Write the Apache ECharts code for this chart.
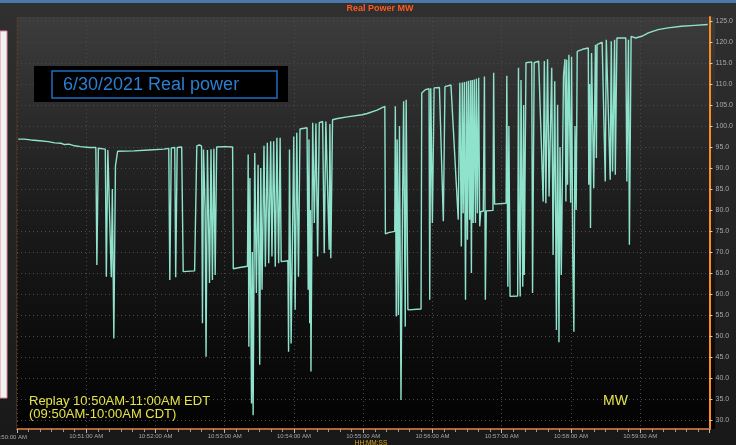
<!DOCTYPE html>
<html><head><meta charset="utf-8">
<script src="https://cdn.jsdelivr.net/npm/echarts@6/dist/echarts.min.js"></script>
<style>html,body{margin:0;padding:0;background:#1c1c1c;overflow:hidden}#main{width:736px;height:445px}</style>
</head><body><div id="main"></div>
<script>
// x: seconds after 10:50:00 AM EDT, y: real power in MW
const minuteLabels = ['','10:51:00 AM','10:52:00 AM','10:53:00 AM','10:54:00 AM','10:55:00 AM','10:56:00 AM','10:57:00 AM','10:58:00 AM','10:59:00 AM',''];
const firstLabel = '10:50:00 AM';
const yRange = [27.8, 126];
const samples = [
[1.0,96.9],[6.0,96.9],[12.0,96.7],[19.8,96.5],[27.0,96.3],[32.7,96.0],[38.0,95.9],[41.3,95.6],[45.0,95.7],[49.9,95.3],[55.0,95.1],[58.5,95.0],[63.0,94.9],[68.3,94.9],
[69.2,66.9],[70.5,94.7],[72.2,94.6],[76.5,94.5],[77.4,64.1],[78.7,94.3],[79.9,94.4],[81.7,64.0],[82.6,85.0],[83.9,49.4],[85.3,90.5],[87.2,94.0],
[101.4,94.1],[114.3,94.3],[127.2,94.5],[131.5,94.7],
[132.4,63.3],[133.7,94.8],[136.7,94.9],[137.5,64.0],[138.8,94.9],[142.7,95.0],[144.0,65.3],[153.9,65.5],
[155.8,95.3],[158.0,95.5],[159.9,95.2],[160.7,53.0],[161.6,94.4],[163.0,80.0],[163.8,45.0],[165.0,94.3],[166.8,62.6],[168.1,94.5],[169.3,63.3],[170.6,94.6],[171.7,64.5],[173.0,95.0],[180.0,95.1],[186.8,95.0],
[187.4,66.0],[193.0,66.3],[199.7,66.6],
[200.3,93.2],[200.9,47.4],[201.8,87.6],[203.2,33.9],[203.9,70.0],[204.6,31.1],[206.0,93.6],[207.4,60.2],[208.9,90.8],[210.3,43.1],[211.2,90.0],[212.3,61.0],[214.0,95.3],[215.2,66.5],[216.9,96.0],[218.1,67.3],[219.8,96.4],[220.9,68.9],[222.4,96.4],[223.8,66.5],[225.2,97.2],[226.7,67.3],[228.0,97.2],[228.9,67.7],[234.7,67.9],
[235.3,46.2],[236.1,94.4],[237.5,48.2],[239.8,97.5],[241.0,56.2],[242.4,98.4],[243.9,64.1],[245.2,99.3],[251.3,99.6],[252.3,61.0],[253.0,96.8],[253.6,53.0],[254.2,80.0],[254.7,41.5],[256.2,100.8],[257.6,76.9],[259.0,100.6],[260.5,68.9],[261.9,100.8],[264.8,101.1],[266.2,69.7],[267.6,101.1],[270.5,70.5],[271.1,100.5],[271.9,68.5],[273.4,101.5],
[277.7,101.8],[286.2,102.2],[299.1,102.7],[303.4,103.0],[312.0,103.8],[318.7,104.7],
[319.2,74.3],[322.0,74.6],[327.3,74.9],[327.8,104.7],[328.6,54.6],[329.4,96.8],[330.4,55.0],[331.4,100.0],[332.7,34.7],[334.0,80.0],[335.0,105.9],[336.4,52.2],[337.2,106.3],[338.7,56.2],[350.1,56.4],[350.7,107.9],
[354.0,108.7],[357.0,108.9],[357.6,58.6],[358.5,109.0],[359.9,76.9],[361.4,109.1],[366.0,109.2],[369.4,77.3],[370.8,109.4],[376.0,109.8],[382.3,77.7],[383.7,110.3],[385.0,71.3],[385.8,110.4],[386.6,79.2],[387.6,110.5],[388.6,58.6],[389.5,110.6],[390.3,72.9],[391.2,110.8],[392.2,77.7],[393.0,110.9],[393.7,65.0],[394.5,111.0],[395.2,76.9],[396.2,111.1],[397.2,76.9],[398.0,111.3],[398.9,79.2],[400.0,111.5],[400.9,76.1],[401.8,79.6],[404.0,79.7],[405.0,111.8],[405.8,58.6],[406.6,79.8],[412.4,79.9],[413.0,112.7],[413.8,81.4],[423.8,81.6],[424.4,112.0],[425.3,61.7],[426.2,100.0],[427.2,59.4],[433.8,59.5],[434.5,113.9],[435.1,79.0],[436.0,59.4],[436.7,111.0],[438.2,61.7],[439.0,105.0],[439.5,64.5],[441.0,115.1],[446.0,115.3],[446.7,60.2],[448.1,115.1],
[452.0,115.5],[455.9,82.0],[456.9,115.5],[458.2,81.6],[459.7,115.9],[461.0,83.2],[463.3,113.9],[464.5,69.3],[465.9,110.7],[467.4,51.4],[468.4,105.1],[469.6,48.5],[470.5,95.0],[471.6,64.5],[473.5,112.0],[474.8,116.0],[475.6,82.0],[476.3,115.8],[477.0,86.0],[478.2,117.0],[479.7,81.7],[480.5,116.5],[481.5,70.0],[482.5,51.0],[483.5,100.0],[484.5,80.0],[485.4,117.8],[490.0,118.3],[495.0,118.6],[495.4,86.0],[496.2,110.0],[496.9,75.7],[497.8,117.4],[499.7,85.2],[501.2,119.4],[502.0,92.4],[502.6,119.4],[503.3,119.8],[507.0,120.0],[509.7,86.8],[510.6,120.6],[514.0,87.2],[514.9,120.2],[516.0,89.2],[517.8,120.6],[518.4,88.4],[519.8,121.0],[527.5,121.0],[528.4,86.8],[529.8,120.6],[530.6,71.7],[532.1,121.4],[536.0,121.0],[541.3,121.4],[547.0,122.2],[555.5,123.0],[564.1,123.4],[575.7,123.8],[587.1,124.0],[598.5,124.2]
];

const chart = echarts.init(document.getElementById('main'), null, {renderer: 'canvas'});
const FONT = '"Liberation Sans", Arial, sans-serif';
const plot = {x: 17, y: 17, w: 698, h: 412};

chart.setOption({
  animation: false,
  backgroundColor: {type: 'linear', x: 0, y: 0, x2: 0, y2: 1, colorStops: [{offset: 0, color: '#303030'}, {offset: 1, color: '#181818'}]},
  grid: {left: plot.x, top: plot.y, right: 736 - plot.x - plot.w, bottom: 445 - plot.y - plot.h, containLabel: false},
  xAxis: {
    type: 'value', min: 0, max: 600, interval: 60,
    axisLine: {show: true, onZero: false, lineStyle: {color: '#b5653a', width: 2}},
    axisTick: {show: true, length: 4, lineStyle: {color: '#bbbbbb', width: 1}},
    minorTick: {show: true, splitNumber: 6, length: 3, lineStyle: {color: '#999999', width: 1}},
    axisLabel: {color: '#a8a8a8', fontSize: 6, fontFamily: FONT, margin: 4, formatter: v => minuteLabels[Math.round(v / 60)]},
    splitLine: {show: true, lineStyle: {color: '#4a4a4a', type: [1, 3], width: 1}}
  },
  yAxis: {
    type: 'value', position: 'right', min: yRange[0], max: yRange[1], splitNumber: 20,
    axisLine: {show: true, onZero: false, lineStyle: {color: '#ff8c1a', width: 2}},
    axisTick: {show: true, length: 3, lineStyle: {color: '#cccccc', width: 1}},
    axisLabel: {color: '#a8a8a8', fontSize: 7, fontFamily: FONT, margin: 6, showMinLabel: false, showMaxLabel: false, formatter: v => v.toFixed(1)},
    splitLine: {show: true, lineStyle: {color: '#4a4a4a', type: [1, 3], width: 1}}
  },
  series: [{
    type: 'line', data: samples, showSymbol: false, symbol: 'none', sampling: false,
    lineStyle: {color: '#8fe3cc', width: 1.4}, z: 5
  }],
  graphic: [
    {type: 'rect', z: -10, silent: true, shape: {x: plot.x, y: plot.y, width: plot.w, height: plot.h},
      style: {fill: {type: 'linear', x: 0, y: 0, x2: 0, y2: 1, colorStops: [{offset: 0, color: '#3c3c3c'}, {offset: 0.45, color: '#1d1d1d'}, {offset: 1, color: '#020202'}]}}},
    {type: 'rect', z: 50, silent: true, shape: {x: 0, y: 0, width: 736, height: 3}, style: {fill: '#4a78aa'}},
    {type: 'rect', z: 50, silent: true, shape: {x: 0, y: 31, width: 7, height: 367}, style: {fill: '#f2f2f2', stroke: '#e08a9a', lineWidth: 1}},
    {type: 'line', z: 50, silent: true, shape: {x1: 16.5, y1: 17, x2: 16.5, y2: 429}, style: {stroke: '#4a2c1c', lineWidth: 1}},
    {type: 'text', z: 60, silent: true, style: {x: 27, y: 437, text: firstLabel, fill: '#a8a8a8', font: '6px ' + FONT, textAlign: 'right', textVerticalAlign: 'middle'}},
    {type: 'text', z: 60, silent: true, style: {x: 380, y: 9, text: 'Real Power MW', fill: '#ff5a1e', font: 'bold 9px ' + FONT, textAlign: 'center', textVerticalAlign: 'middle'}},
    {type: 'text', z: 60, silent: true, style: {x: 371, y: 443, text: 'HH:MM:SS', fill: '#d9a81c', font: '6.5px ' + FONT, textAlign: 'center', textVerticalAlign: 'middle'}},
    {type: 'rect', z: 60, silent: true, shape: {x: 34, y: 66, width: 254, height: 36}, style: {fill: '#000000'}},
    {type: 'rect', z: 61, silent: true, shape: {x: 52, y: 71, width: 225, height: 27}, style: {fill: 'none', stroke: '#1f6fc0', lineWidth: 1.5}},
    {type: 'text', z: 62, silent: true, style: {x: 63, y: 85, text: '6/30/2021 Real power', fill: '#2a7fd0', font: '18px ' + FONT, textVerticalAlign: 'middle'}},
    {type: 'text', z: 60, silent: true, style: {x: 29, y: 401.5, text: 'Replay 10:50AM-11:00AM EDT', fill: '#e2e24a', font: '13px ' + FONT, textVerticalAlign: 'middle'}},
    {type: 'text', z: 60, silent: true, style: {x: 29, y: 414, text: '(09:50AM-10:00AM CDT)', fill: '#e2e24a', font: '13px ' + FONT, textVerticalAlign: 'middle'}},
    {type: 'text', z: 60, silent: true, style: {x: 603, y: 401, text: 'MW', fill: '#e2e24a', font: '14px ' + FONT, textVerticalAlign: 'middle'}}
  ]
});
</script></body></html>
